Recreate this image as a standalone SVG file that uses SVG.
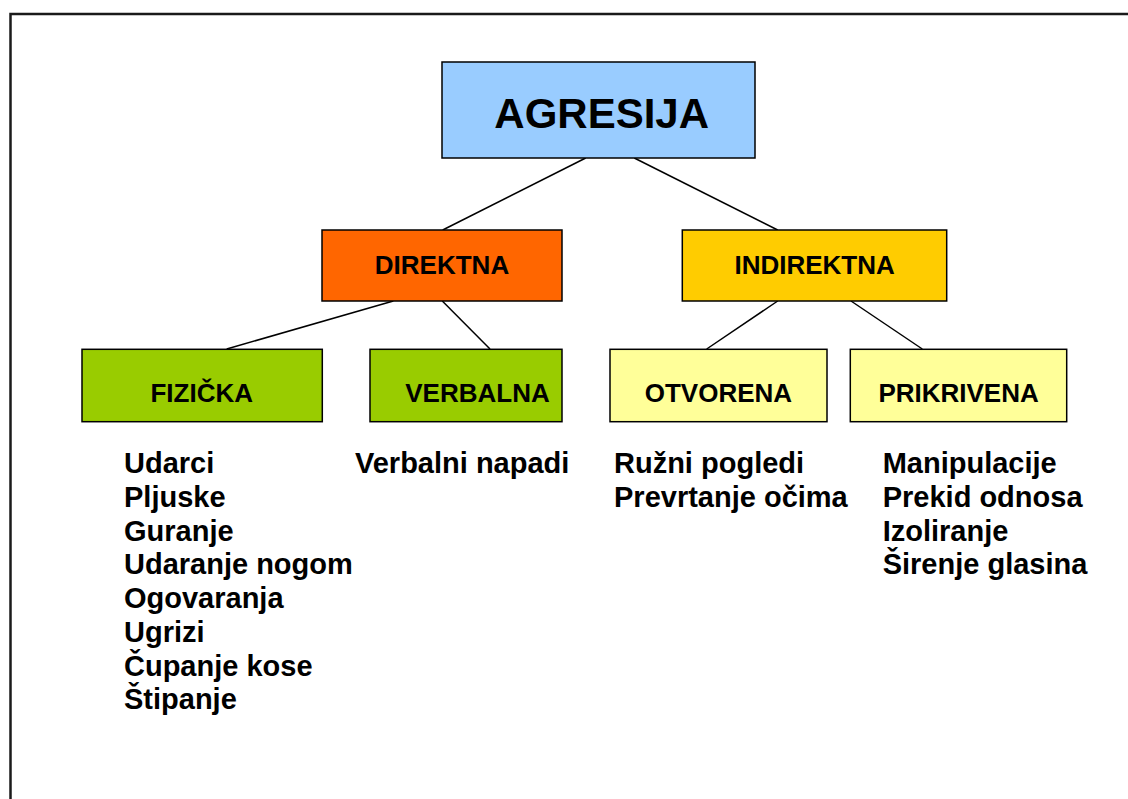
<svg xmlns="http://www.w3.org/2000/svg" width="1128" height="799" viewBox="0 0 1128 799">
<style>
  text { font-family: "Liberation Sans", Arial, sans-serif; font-weight: bold; fill: #000; }
  .box { stroke: #000; stroke-width: 1.5; }
  .lbl { font-size: 26px; text-anchor: middle; }
  .list { font-size: 29px; }
  .conn line { stroke: #000; stroke-width: 1.5; }
</style>
<rect x="0" y="0" width="1128" height="799" fill="#fff"/>
<rect x="10.5" y="14" width="1200" height="900" fill="none" stroke="#1a1a1a" stroke-width="2.5"/>
<g class="conn" id="connectors">
  <line x1="585.7" y1="158" x2="442.7" y2="230"/>
  <line x1="634.3" y1="158" x2="777.7" y2="230"/>
  <line x1="393.3" y1="301" x2="226.7" y2="349"/>
  <line x1="442.3" y1="301" x2="490" y2="349"/>
  <line x1="777.7" y1="301" x2="706.7" y2="349"/>
  <line x1="851" y1="301" x2="922.3" y2="349"/>
</g>
<g id="agresija">
  <rect class="box" x="442" y="62" width="313" height="96" fill="#99CCFF"/>
  <text x="601.7" y="127.7" font-size="42" text-anchor="middle">AGRESIJA</text>
</g>
<g id="direktna">
  <rect class="box" x="322" y="230" width="240" height="71" fill="#FF6600"/>
  <text class="lbl" x="442" y="274">DIREKTNA</text>
</g>
<g id="indirektna">
  <rect class="box" x="682.3" y="230" width="264.4" height="71" fill="#FFCC00"/>
  <text class="lbl" x="814.6" y="274">INDIREKTNA</text>
</g>
<g id="fizicka">
  <rect class="box" x="82" y="349.3" width="240.3" height="72.4" fill="#99CC00"/>
  <text class="lbl" x="201.7" y="401.7">FIZIČKA</text>
</g>
<g id="verbalna">
  <rect class="box" x="370" y="349.3" width="192" height="72.4" fill="#99CC00"/>
  <text class="lbl" x="477.5" y="401.7">VERBALNA</text>
</g>
<g id="otvorena">
  <rect class="box" x="610" y="349.3" width="217" height="72.4" fill="#FFFF99"/>
  <text class="lbl" x="718.4" y="401.7">OTVORENA</text>
</g>
<g id="prikrivena">
  <rect class="box" x="850.3" y="349.3" width="216.4" height="72.4" fill="#FFFF99"/>
  <text class="lbl" x="958.6" y="401.7">PRIKRIVENA</text>
</g>
<g id="list-fizicka">
  <text class="list" x="124" y="473.3">Udarci</text>
  <text class="list" x="124" y="507">Pljuske</text>
  <text class="list" x="124" y="540.7">Guranje</text>
  <text class="list" x="124" y="574.4">Udaranje nogom</text>
  <text class="list" x="124" y="608.1">Ogovaranja</text>
  <text class="list" x="124" y="641.8">Ugrizi</text>
  <text class="list" x="124" y="675.5">Čupanje kose</text>
  <text class="list" x="124" y="709.2">Štipanje</text>
</g>
<g id="list-verbalna">
  <text class="list" x="355" y="473.3">Verbalni napadi</text>
</g>
<g id="list-otvorena">
  <text class="list" x="614" y="473.3">Ružni pogledi</text>
  <text class="list" x="614" y="507">Prevrtanje očima</text>
</g>
<g id="list-prikrivena">
  <text class="list" x="882.7" y="473.3">Manipulacije</text>
  <text class="list" x="882.7" y="507">Prekid odnosa</text>
  <text class="list" x="882.7" y="540.7">Izoliranje</text>
  <text class="list" x="882.7" y="574.4">Širenje glasina</text>
</g>
</svg>
